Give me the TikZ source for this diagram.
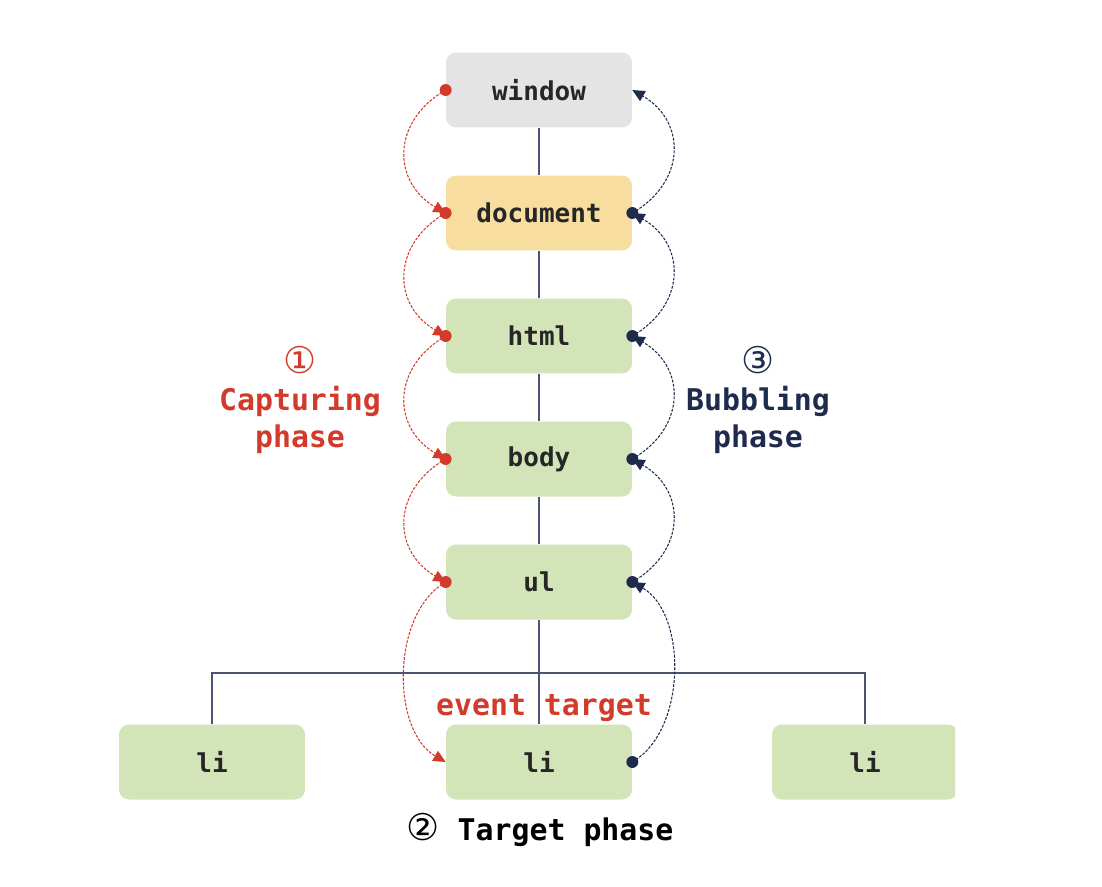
\documentclass[tikz,border=0pt]{standalone}
\usepackage{fontspec}
\setmonofont{DejaVu Sans Mono}
\newfontfamily\circfont{DejaVu Sans}
\usetikzlibrary{arrows.meta, positioning}
\definecolor{capred}{HTML}{D23A2B}
\definecolor{bubnavy}{HTML}{1E2B4F}
\definecolor{treeline}{HTML}{4B5573}
\definecolor{wingray}{HTML}{E4E4E4}
\definecolor{docyellow}{HTML}{F7DEA0}
\definecolor{elgreen}{HTML}{D3E4B8}

\begin{document}
\begin{tikzpicture}[x=0.02cm, y=-0.02cm,
    elem/.style={rounded corners=0.2cm, minimum width=3.72cm, minimum height=1.5cm,
      font=\ttfamily\bfseries\fontsize{14.8}{16}\selectfont, text=black!85},
    phase/.style={font=\ttfamily\bfseries\fontsize{17}{21}\selectfont, align=center},
    capture/.style={capred, dash pattern=on 1.6pt off 0.8pt, line width=0.6pt, -{Triangle[length=7pt,width=6.5pt]}},
    bubble/.style={bubnavy, dash pattern=on 1.6pt off 0.8pt, line width=0.6pt, -{Triangle[length=7pt,width=6.5pt]}}]
    \useasboundingbox (0,0) rectangle (1102,886);
    % tree
    \node[elem, fill=wingray] (win) at (539,90) {window};
    \node[elem, fill=docyellow] (doc) at (539,213) {document};
    \node[elem, fill=elgreen] (html) at (539,336) {html};
    \node[elem, fill=elgreen] (body) at (539,459) {body};
    \node[elem, fill=elgreen] (ul) at (539,582) {ul};
    \node[elem, fill=elgreen] (li1) at (212,762) {li};
    \node[elem, fill=elgreen] (li2) at (539,762) {li};
    \begin{scope}
      \clip (0,0) rectangle (955,886);
      \node[elem, fill=elgreen] (li3) at (865,762) {li};
    \end{scope}
    \coordinate (fork) at (539,673);
    \draw[treeline, line width=0.7pt] (win) -- (doc) -- (html) -- (body) -- (ul) -- (li2);
    \draw[treeline, line width=0.7pt] (li1.north) |- (fork) -| (li3.north);
    % propagation arcs
    \foreach \a/\b in {win/doc, doc/html, html/body, body/ul}{
      \draw[capture] (\a.west) to[out=210, in=150, looseness=1.3] (\b.west);
    }
    \draw[capture] (ul.west) to[out=210, in=150, looseness=0.9] (li2.west);
    \foreach \a/\b in {doc/win, html/doc, body/html, ul/body}{
      \draw[bubble] (\a.east) to[out=30, in=-30, looseness=1.3] (\b.east);
    }
    \draw[bubble] (li2.east) to[out=30, in=-30, looseness=0.9] (ul.east);
    \foreach \n in {win, doc, html, body, ul}{
      \fill[capred] (\n.west) circle (3.4pt);
    }
    \foreach \n in {doc, html, body, ul, li2}{
      \fill[bubnavy] (\n.east) circle (3.4pt);
    }
    % labels
    \node[phase, text=capred] (caplabel) at (300,400) {{\circfont\mdseries\fontsize{21}{21}\selectfont ①}\\Capturing\\phase};
    \node[phase, text=bubnavy] (bublabel) at (758,400) {{\circfont\mdseries\fontsize{21}{21}\selectfont ③}\\Bubbling\\phase};
    \node[phase, text=capred] (target) at (544,708) {event target};
    \node[phase, text=black] (tphase) at (540,830) {{\circfont\mdseries\fontsize{21}{21}\selectfont ②}\ Target phase};
\end{tikzpicture}
\end{document}
